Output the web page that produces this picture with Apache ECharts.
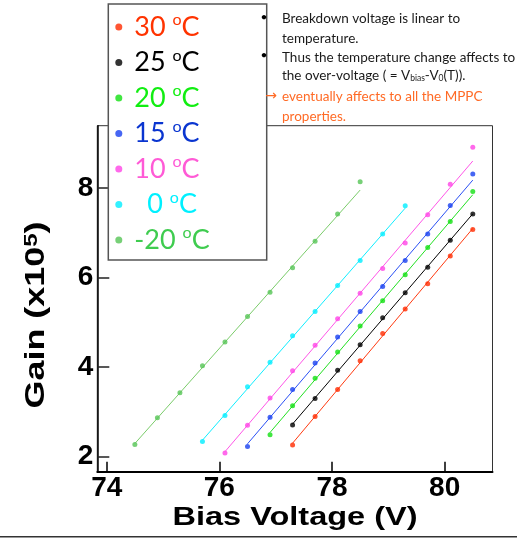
<!DOCTYPE html>
<html>
<head>
<meta charset="utf-8">
<script src="https://cdn.jsdelivr.net/npm/echarts@6/dist/echarts.min.js"></script>
<style>html,body{margin:0;padding:0;background:#fff;}#c{width:517px;height:539px;}</style>
</head>
<body>
<div id="c"></div>
<script>
// ---- data ----
const legendNums = ['30', '25', '20', '15', '10', '0', '-20'];
const seriesNames = ['30 °C', '25 °C', '20 °C', '15 °C', '10 °C', '0 °C', '-20 °C'];

const v30 = [77.3, 77.7, 78.1, 78.5, 78.9, 79.3, 79.7, 80.1, 80.5];
const g30 = [2.26, 2.90, 3.50, 4.14, 4.75, 5.30, 5.86, 6.48, 7.07];
const v25 = [77.3, 77.7, 78.1, 78.5, 78.9, 79.3, 79.7, 80.1, 80.5];
const g25 = [2.71, 3.30, 3.93, 4.50, 5.10, 5.66, 6.23, 6.83, 7.42];
const v20 = [76.9, 77.3, 77.7, 78.1, 78.5, 78.9, 79.3, 79.7, 80.1, 80.5];
const g20 = [2.49, 3.14, 3.75, 4.34, 4.92, 5.48, 6.06, 6.67, 7.25, 7.92];
const v15 = [76.5, 76.9, 77.3, 77.7, 78.1, 78.5, 78.9, 79.3, 79.7, 80.1, 80.5];
const g15 = [2.23, 2.88, 3.50, 4.09, 4.67, 5.24, 5.80, 6.38, 6.97, 7.61, 8.31];
const v10 = [76.1, 76.5, 76.9, 77.3, 77.7, 78.1, 78.5, 78.9, 79.3, 79.7, 80.1, 80.5];
const g10 = [2.08, 2.70, 3.31, 3.92, 4.49, 5.08, 5.65, 6.20, 6.77, 7.40, 8.08, 8.91];
const v0 = [75.7, 76.1, 76.5, 76.9, 77.3, 77.7, 78.1, 78.5, 78.9, 79.3];
const g0 = [2.34, 2.92, 3.56, 4.11, 4.70, 5.24, 5.82, 6.38, 6.97, 7.60];
const vm20 = [74.5, 74.9, 75.3, 75.7, 76.1, 76.5, 76.9, 77.3, 77.7, 78.1, 78.5];
const gm20 = [2.27, 2.87, 3.43, 4.03, 4.56, 5.13, 5.67, 6.22, 6.81, 7.42, 8.14];

const xTicks = [74, 76, 78, 80];
const yTicks = [2, 4, 6, 8];

const volts = [v30, v25, v20, v15, v10, v0, vm20];
const gains = [g30, g25, g20, g15, g10, g0, gm20];

// ---- styles ----
const textColors = ['#ff3300', '#000000', '#11ee11', '#0a35d0', '#ff5ad6', '#00f0ff', '#3fcc4f'];
const pointColors = ['#ff2a00', '#000000', '#11e011', '#1840f0', '#ff44e6', '#00eeff', '#55c455'];
const lineColors = ['#ff3a10', '#000000', '#22e022', '#2a50f5', '#ff55e8', '#10eeff', '#7acc6a'];

// linear fit (fit range excludes the last point), drawn from first to last voltage
function fitLine(xs, ys) {
  const n = xs.length - 1;
  let sx = 0, sy = 0, sxx = 0, sxy = 0;
  for (let i = 0; i < n; i++) { sx += xs[i]; sy += ys[i]; sxx += xs[i] * xs[i]; sxy += xs[i] * ys[i]; }
  const b = (n * sxy - sx * sy) / (n * sxx - sx * sx);
  const a = (sy - b * sx) / n;
  const x0 = xs[0], x1 = xs[xs.length - 1];
  return [[x0, a + b * x0], [x1, a + b * x1]];
}

const series = [];
seriesNames.forEach((name, i) => {
  series.push({
    type: 'scatter', name: name, z: 4,
    symbol: 'circle', symbolSize: 5,
    itemStyle: { color: pointColors[i] },
    data: volts[i].map((v, j) => [v, gains[i][j]])
  });
});
seriesNames.forEach((name, i) => {
  series.push({
    type: 'line', name: name, z: 3,
    showSymbol: false, symbol: 'none',
    lineStyle: { color: lineColors[i], width: 1 },
    data: fitLine(volts[i], gains[i])
  });
});

const rich = {};
legendNums.forEach((n, i) => {
  rich['n' + i] = { fontFamily: 'Lato', fontSize: 27, lineHeight: 30, color: textColors[i] };
  rich['p' + i] = { fontFamily: 'Lato', fontSize: 27, lineHeight: 30, color: textColors[i], padding: [0, 0, 0, 13] };
  rich['s' + i] = { fontFamily: 'Lato', fontSize: 16, lineHeight: 27, verticalAlign: 'top', color: textColors[i] };
});

const bodyFont = 'Lato';
const txt = '#1a1a1a';
const orange = '#ff6a25';

const chart = echarts.init(document.getElementById('c'), null, { renderer: 'canvas' });
chart.setOption({
  animation: false,
  backgroundColor: '#ffffff',
  grid: { left: 97.3, right: 24.5, top: 125.7, bottom: 67.3, show: true, borderColor: '#333', borderWidth: 1, backgroundColor: 'transparent' },
  xAxis: {
    type: 'value', min: 73.833, max: 80.85,
    axisLine: { show: true, onZero: false, lineStyle: { color: '#000', width: 2 } },
    axisTick: { show: true, inside: true, length: 10, lineStyle: { color: '#000', width: 1.5 }, customValues: xTicks },
    axisLabel: { customValues: xTicks, margin: 3, color: '#000', fontFamily: 'Liberation Sans', fontWeight: 'bold', fontSize: 28 },
    splitLine: { show: false }
  },
  yAxis: {
    type: 'value', min: 1.665, max: 9.39,
    axisLine: { show: true, onZero: false, lineStyle: { color: '#000', width: 1.5 } },
    axisTick: { show: true, inside: true, length: 12, lineStyle: { color: '#222', width: 1.5 }, customValues: yTicks },
    axisLabel: { customValues: yTicks, margin: 4, color: '#000', fontFamily: 'Liberation Sans', fontWeight: 'bold', fontSize: 28 },
    splitLine: { show: false }
  },
  legend: {
    orient: 'vertical', left: 115.3, top: 12, padding: 0,
    itemWidth: 21, itemHeight: 7, itemGap: 7, icon: 'circle',
    data: seriesNames.map((n, i) => ({ name: n, textStyle: { color: textColors[i] } })),
    formatter: function (name) {
      const i = seriesNames.indexOf(name);
      const num = legendNums[i];
      const tag = num === '0' ? 'p' : 'n';
      return '{' + tag + i + '|' + num + ' }{s' + i + '|o}{n' + i + '|C}';
    },
    textStyle: { rich: rich, fontFamily: 'Lato', fontSize: 27 }
  },
  graphic: [
    { type: 'rect', z: 3, shape: { x: 108.3, y: 4, width: 158.4, height: 256 }, style: { fill: '#fff', stroke: '#555', lineWidth: 1.5 } },
    { type: 'line', z: 3, shape: { x1: 0, y1: 536.7, x2: 517, y2: 536.7 }, style: { stroke: '#333', lineWidth: 1.5 } },
    { type: 'text', z: 5, x: 295, y: 518, scaleX: 1.25, style: { text: 'Bias Voltage (V)', fontFamily: 'Liberation Sans', fontWeight: 'bold', fontSize: 26, fill: '#000', align: 'center', verticalAlign: 'middle' } },
    { type: 'text', z: 5, x: 37, y: 315, rotation: Math.PI / 2, scaleX: 1.33, style: {
        text: 'Gain (x10{sup|5})', fontFamily: 'Liberation Sans', fontWeight: 'bold', fontSize: 27, fill: '#000', align: 'center', verticalAlign: 'middle',
        rich: { sup: { fontFamily: 'Liberation Sans', fontWeight: 'bold', fontSize: 18, lineHeight: 14, verticalAlign: 'top', fill: '#000' } } } },
    { type: 'text', z: 5, x: 264, y: 17, style: { text: '•', fontFamily: bodyFont, fontSize: 12, fill: '#000', align: 'center', verticalAlign: 'middle' } },
    { type: 'text', z: 5, x: 264, y: 55, style: { text: '•', fontFamily: bodyFont, fontSize: 12, fill: '#000', align: 'center', verticalAlign: 'middle' } },
    { type: 'text', z: 5, x: 282, y: 18.7, style: { text: 'Breakdown voltage is linear to', fontFamily: bodyFont, fontSize: 13.5, fill: txt, verticalAlign: 'middle' } },
    { type: 'text', z: 5, x: 282, y: 38.3, style: { text: 'temperature.', fontFamily: bodyFont, fontSize: 13.5, fill: txt, verticalAlign: 'middle' } },
    { type: 'text', z: 5, x: 282, y: 57.3, style: { text: 'Thus the temperature change affects to', fontFamily: bodyFont, fontSize: 13.5, fill: txt, verticalAlign: 'middle' } },
    { type: 'text', z: 5, x: 282, y: 76, style: {
        text: 'the over-voltage ( = V{sub|bias}-V{sub|0}(T)).', fontFamily: bodyFont, fontSize: 13.5, fill: txt, verticalAlign: 'middle',
        rich: { sub: { fontFamily: bodyFont, fontSize: 8.5, lineHeight: 13, verticalAlign: 'bottom', fill: txt } } } },
    { type: 'text', z: 5, x: 271, y: 96, style: { text: '→', fontFamily: 'DejaVu Sans', fontSize: 14, fill: orange, align: 'center', verticalAlign: 'middle' } },
    { type: 'text', z: 5, x: 282, y: 96.7, style: { text: 'eventually affects to all the MPPC', fontFamily: bodyFont, fontSize: 13.5, fill: orange, verticalAlign: 'middle' } },
    { type: 'text', z: 5, x: 282, y: 116.7, style: { text: 'properties.', fontFamily: bodyFont, fontSize: 13.5, fill: orange, verticalAlign: 'middle' } }
  ],
  series: series
});
</script>
</body>
</html>
